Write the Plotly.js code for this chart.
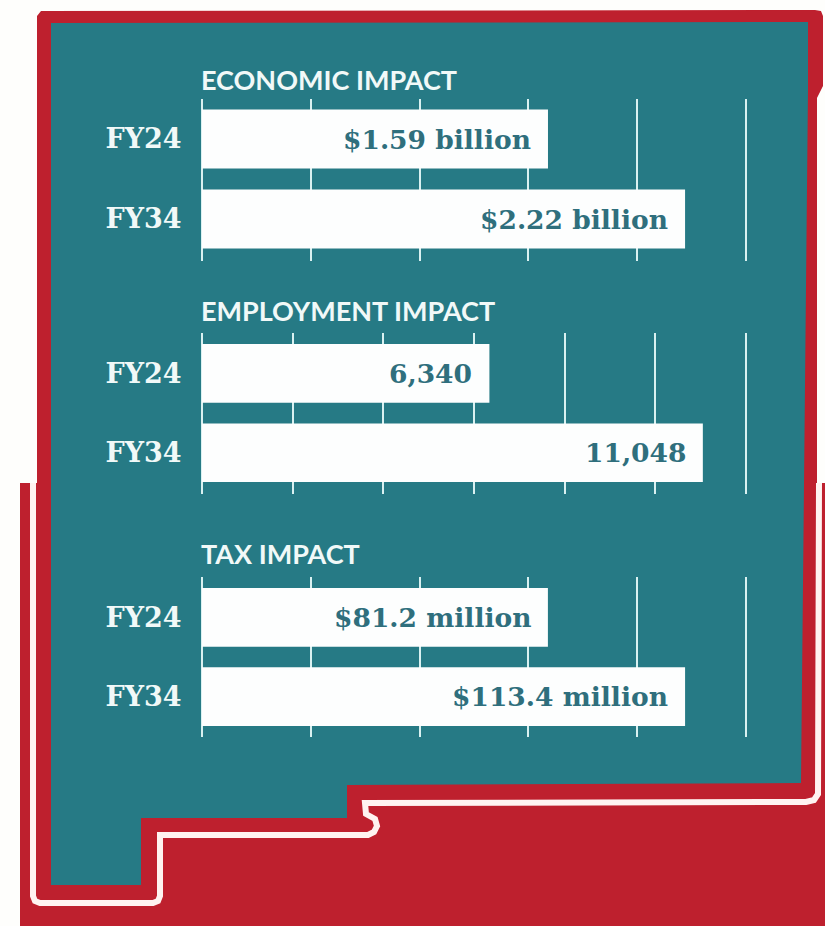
<!DOCTYPE html>
<html>
<head>
<meta charset="utf-8">
<script src="https://cdn.plot.ly/plotly-3.0.1.min.js"></script>
<style>html,body{margin:0;padding:0;background:#fff}</style>
</head>
<body>
<div id="chart" style="width:825px;height:926px"></div>
<script>
const years = ['FY24', 'FY34'];
const economicValues = [1.59, 2.22];
const economicLabels = ['$1.59 billion', '$2.22 billion'];
const employmentValues = [6340, 11048];
const employmentLabels = ['6,340', '11,048'];
const taxValues = [81.2, 113.4];
const taxLabels = ['$81.2 million', '$113.4 million'];
const sectionTitles = ['ECONOMIC IMPACT', 'EMPLOYMENT IMPACT', 'TAX IMPACT'];

const W = 825, H = 926;
const TEAL = '#267a85', RED = '#be202e', WHITE = '#fefefc', GRID = '#d9f1f1', INK = '#2f6f7d', PALE = '#f1f9f8';
const px = x => x / W, py = y => 1 - y / H;
// Converts pixel-authored outline points into paper coordinates for the background map.
const outline = pts => pts.map((p, i) => (i ? 'L' : 'M') + px(p[0]).toFixed(5) + ',' + py(p[1]).toFixed(5)).join(' ');

const panels = [
  {values: economicValues, labels: economicLabels, top: 99, bottom: 261, xmax: 2.5, dtick: 0.5, yr: [1.525, -0.5], titleY: 79},
  {values: employmentValues, labels: employmentLabels, top: 333, bottom: 494, xmax: 12000, dtick: 2000, yr: [1.52, -0.51], titleY: 310},
  {values: taxValues, labels: taxLabels, top: 577, bottom: 737, xmax: 127.7, dtick: 25.54, yr: [1.51, -0.51], titleY: 553}
];

const data = [], annotations = [];
const layout = {
  width: W, height: H, autosize: false,
  margin: {l: 0, r: 0, t: 0, b: 0, pad: 0},
  paper_bgcolor: WHITE, plot_bgcolor: 'rgba(0,0,0,0)',
  showlegend: false,
  shapes: [
    {type: 'rect', xref: 'paper', yref: 'paper', x0: px(20), x1: 1, y0: py(483), y1: 0, fillcolor: RED, line: {width: 0}, layer: 'below'},
    {type: 'path', xref: 'paper', yref: 'paper', layer: 'below', fillcolor: RED, line: {width: 0},
     path: outline([[37,16],[41,11],[815,10],[821,11],[823,16],[823,86],[817,98],[817,520],[37,520]]) + ' Z'},
    {type: 'path', xref: 'paper', yref: 'paper', layer: 'below', fillcolor: 'rgba(0,0,0,0)', line: {color: '#fff3f1', width: 6},
     path: outline([[33,483],[33,896],[35,901],[40,903],[153,903],[158,901],[160,896],[160,835],
                    [368,835],[374,832],[377,826],[375,819],[366,814],[365,803],[806,802],[814,800],[818,794],[819,483]])},
    {type: 'path', xref: 'paper', yref: 'paper', layer: 'below', fillcolor: TEAL, line: {width: 0},
     path: outline([[51,23],[808,22],[808,90],[801,783],[347,785],[347,818],[141,818],[141,885],[51,885]]) + ' Z'}
  ],
  annotations: annotations
};

panels.forEach((p, i) => {
  const n = i ? String(i + 1) : '';
  data.push({
    type: 'bar', orientation: 'h', x: p.values, y: years,
    xaxis: 'x' + n, yaxis: 'y' + n, width: 0.74,
    marker: {color: '#fdfefe', line: {width: 0}}, hoverinfo: 'skip'
  });
  layout['xaxis' + n] = {
    domain: [px(202), px(748)], anchor: 'y' + n, range: [0, p.xmax * 546 / 544],
    tick0: 0, dtick: p.dtick, showticklabels: false, ticks: '',
    showgrid: true, gridcolor: GRID, gridwidth: 2,
    zeroline: true, zerolinecolor: GRID, zerolinewidth: 2, showline: false
  };
  layout['yaxis' + n] = {
    domain: [py(p.bottom), py(p.top)], anchor: 'x' + n, type: 'category',
    categoryorder: 'array', categoryarray: years, range: p.yr,
    showgrid: false, zeroline: false, showline: false,
    ticks: 'outside', ticklen: 14, tickcolor: 'rgba(0,0,0,0)',
    tickfont: {family: 'DejaVu Serif', size: 27, color: PALE, weight: 700}
  };
  p.values.forEach((v, j) => annotations.push({
    xref: 'x' + n, yref: 'y' + n, x: v, y: j, xanchor: 'right', yanchor: 'middle', xshift: -15,
    text: '<b>' + p.labels[j] + '</b>', showarrow: false,
    font: {family: 'DejaVu Serif', size: 26.5, color: INK}
  }));
  annotations.push({
    xref: 'paper', yref: 'paper', x: px(199), y: py(p.titleY), xanchor: 'left', yanchor: 'middle',
    text: '<b>' + sectionTitles[i] + '</b>', showarrow: false,
    font: {family: 'Lato', size: 27, color: PALE}
  });
});

Plotly.newPlot('chart', data, layout, {staticPlot: true, displayModeBar: false});
</script>
</body>
</html>
